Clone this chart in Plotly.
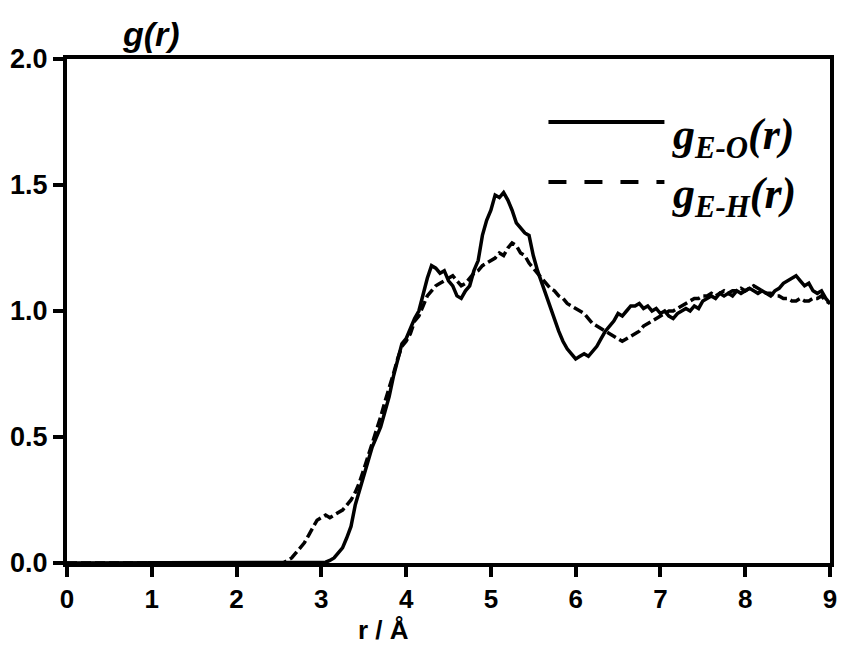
import plotly.graph_objects as go

# r grid (Å) for the tabulated part of each curve
r_vals = [0.0, 2.5, 2.55, 2.6, 2.65, 2.7, 2.75, 2.8, 2.85, 2.9, 2.95,
          3.0, 3.05, 3.1, 3.15, 3.2, 3.25, 3.3, 3.35, 3.4, 3.45,
          3.5, 3.55, 3.6, 3.65, 3.7, 3.75, 3.8, 3.85, 3.9, 3.95,
          4.0, 4.05, 4.1, 4.15, 4.2, 4.25, 4.3, 4.35, 4.4, 4.45,
          4.5, 4.55, 4.6, 4.65, 4.7, 4.75, 4.8, 4.85, 4.9, 4.95,
          5.0, 5.05, 5.1, 5.15, 5.2, 5.25, 5.3, 5.35, 5.4, 5.45,
          5.5, 5.55, 5.6, 5.65, 5.7, 5.75, 5.8, 5.85, 5.9, 5.95,
          6.0, 6.05, 6.1, 6.15, 6.2, 6.25, 6.3, 6.35, 6.4, 6.45,
          6.5, 6.55, 6.6, 6.65, 6.7, 6.75, 6.8, 6.85, 6.9, 6.95,
          7.0, 7.05, 7.1, 7.15, 7.2, 7.25, 7.3, 7.35, 7.4, 7.45,
          7.5, 7.55, 7.6, 7.65, 7.7, 7.75, 7.8, 7.85, 7.9, 7.95,
          8.0, 8.05, 8.1, 8.15, 8.2, 8.25, 8.3, 8.35, 8.4, 8.45,
          8.5, 8.55, 8.6, 8.65, 8.7, 8.75, 8.8, 8.85, 8.9, 8.95, 9.0]

g_EO = [0.0, 0.0, 0.0, 0.0, 0.0, 0.0, 0.0, 0.0, 0.0, 0.0, 0.0,
        0.0, 0.003, 0.01, 0.02, 0.04, 0.06, 0.10, 0.145, 0.23, 0.29,
        0.34, 0.40, 0.46, 0.50, 0.54, 0.60, 0.66, 0.74, 0.81, 0.87,
        0.89, 0.93, 0.97, 1.00, 1.07, 1.13, 1.18, 1.17, 1.15, 1.16,
        1.12, 1.10, 1.06, 1.05, 1.08, 1.10, 1.16, 1.20, 1.30, 1.36,
        1.40, 1.46, 1.45, 1.47, 1.44, 1.40, 1.35, 1.33, 1.31, 1.30,
        1.22, 1.16, 1.11, 1.06, 1.01, 0.97, 0.92, 0.88, 0.85, 0.83,
        0.81, 0.82, 0.83, 0.82, 0.84, 0.86, 0.89, 0.92, 0.94, 0.96,
        0.99, 0.98, 1.00, 1.02, 1.02, 1.03, 1.01, 1.02, 1.00, 1.01,
        0.99, 1.00, 0.98, 0.97, 0.99, 1.00, 1.01, 1.00, 1.02, 1.01,
        1.04, 1.05, 1.06, 1.05, 1.07, 1.06, 1.07, 1.06, 1.08, 1.07,
        1.08, 1.09, 1.08, 1.07, 1.08, 1.07, 1.06, 1.08, 1.09, 1.11,
        1.12, 1.13, 1.14, 1.12, 1.10, 1.11, 1.08, 1.07, 1.08, 1.05, 1.03]

g_EH = [0.0, 0.0, 0.0, 0.01, 0.02, 0.04, 0.06, 0.08, 0.11, 0.14, 0.17,
        0.18, 0.19, 0.18, 0.19, 0.20, 0.21, 0.23, 0.25, 0.28, 0.32,
        0.37, 0.42, 0.47, 0.53, 0.58, 0.64, 0.69, 0.75, 0.81, 0.86,
        0.88, 0.91, 0.96, 0.98, 1.02, 1.06, 1.08, 1.10, 1.11, 1.12,
        1.13, 1.14, 1.12, 1.10, 1.11, 1.13, 1.15, 1.16, 1.18, 1.19,
        1.20, 1.21, 1.23, 1.22, 1.25, 1.27, 1.26, 1.23, 1.22, 1.19,
        1.17, 1.15, 1.13, 1.11, 1.09, 1.08, 1.06, 1.05, 1.03, 1.02,
        1.01, 1.00, 0.99, 0.97, 0.95, 0.94, 0.93, 0.92, 0.91, 0.90,
        0.89, 0.88, 0.89, 0.90, 0.91, 0.92, 0.94, 0.95, 0.96, 0.97,
        0.98, 0.99, 1.00, 1.00, 1.01, 1.02, 1.03, 1.04, 1.05, 1.05,
        1.06, 1.06, 1.07, 1.06, 1.07, 1.08, 1.07, 1.08, 1.08, 1.09,
        1.08, 1.09, 1.10, 1.09, 1.08, 1.07, 1.07, 1.06, 1.06, 1.05,
        1.05, 1.04, 1.04, 1.05, 1.04, 1.04, 1.05, 1.05, 1.06, 1.04, 1.03]

x_ticks = [0, 1, 2, 3, 4, 5, 6, 7, 8, 9]
x_tick_text = ["0", "1", "2", "3", "4", "5", "6", "7", "8", "9"]
y_ticks = [0.0, 0.5, 1.0, 1.5, 2.0]
y_tick_text = ["0.0", "0.5", "1.0", "1.5", "2.0"]

fig = go.Figure()
fig.add_trace(go.Scatter(x=r_vals, y=g_EO, mode="lines",
                         line=dict(color="black", width=3.5), showlegend=False))
fig.add_trace(go.Scatter(x=r_vals, y=g_EH, mode="lines",
                         line=dict(color="black", width=3.5, dash="10px,4px"),
                         showlegend=False))

axis_common = dict(showline=True, linecolor="black", linewidth=4, mirror=True,
                   ticks="outside", ticklen=10, tickwidth=4, tickcolor="black",
                   showgrid=False, zeroline=False)

fig.update_xaxes(range=[0, 9], tickvals=x_ticks,
                 ticktext=["<b>" + t + "</b>" for t in x_tick_text],
                 tickfont=dict(family="Liberation Sans", size=26, color="black"),
                 **axis_common)
fig.update_yaxes(range=[0, 2], tickvals=y_ticks,
                 ticktext=["<b>" + t + "</b>" for t in y_tick_text],
                 tickfont=dict(family="Liberation Sans", size=27, color="black"),
                 **axis_common)

# legend samples
fig.add_shape(type="line", xref="paper", yref="paper", x0=0.631, x1=0.783,
              y0=0.875, y1=0.875, line=dict(color="black", width=4))
fig.add_shape(type="line", xref="paper", yref="paper", x0=0.631, x1=0.783,
              y0=0.756, y1=0.756, line=dict(color="black", width=4, dash="18px,18px"))

serif = dict(family="Liberation Serif", size=44, color="black")
fig.add_annotation(xref="paper", yref="paper", x=0.79, y=0.845,
                   xanchor="left", yanchor="middle", showarrow=False,
                   text="<b><i>g<sub>E-O</sub>(r)</i></b>", font=serif)
fig.add_annotation(xref="paper", yref="paper", x=0.79, y=0.727,
                   xanchor="left", yanchor="middle", showarrow=False,
                   text="<b><i>g<sub>E-H</sub>(r)</i></b>", font=serif)

# axis titles
fig.add_annotation(xref="paper", yref="paper", x=0.11, y=1.05,
                   xanchor="center", yanchor="middle", showarrow=False,
                   text="<b><i>g(r)</i></b>",
                   font=dict(family="Liberation Sans", size=34, color="black"))
fig.add_annotation(xref="paper", yref="paper", x=0.415, y=-0.166,
                   xanchor="center", yanchor="bottom", showarrow=False,
                   text="<b>r / Å</b>",
                   font=dict(family="Liberation Sans", size=26, color="black"))

fig.update_layout(width=847, height=647, margin=dict(l=67, r=10, t=59, b=84),
                  plot_bgcolor="white", paper_bgcolor="white")

fig.write_html("out.html")
